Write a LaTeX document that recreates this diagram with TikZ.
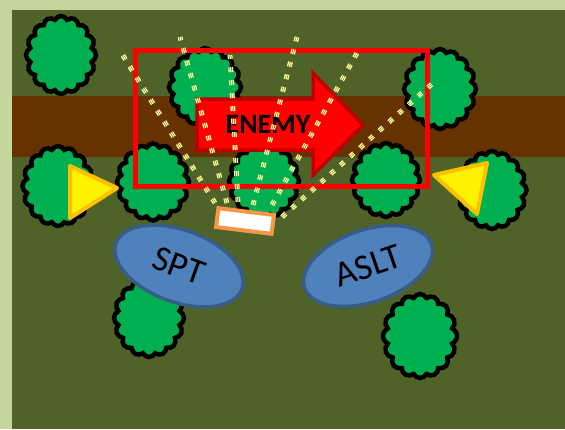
\documentclass[tikz,border=0pt]{standalone}
\usepackage{fontspec}
\setmainfont{Carlito}
\usetikzlibrary{shapes.symbols,shapes.geometric,calc}

\definecolor{framegreen}{HTML}{C3D69B}
\definecolor{fieldgreen}{HTML}{4F6228}
\definecolor{roadbrown}{HTML}{663300}
\definecolor{leafgreen}{HTML}{00B050}
\definecolor{unitfill}{HTML}{4F81BD}
\definecolor{unitline}{HTML}{385D8A}
\definecolor{gunline}{HTML}{F79646}
\definecolor{arrowline}{HTML}{C00000}
\definecolor{firecolor}{HTML}{FFFF99}
\definecolor{markline}{HTML}{FFC000}

\tikzset{
  tree/.style={cloud, cloud puffs=16, cloud puff arc=130, cloud ignores aspect,
    draw=black, line width=4.5, fill=leafgreen},
  fireline/.style={draw=firecolor, line width=1.25, dash pattern=on 5 off 8},
  unit/.style={ellipse, draw=unitline, fill=unitfill, line width=3.5,
    minimum width=134, minimum height=72, inner sep=0,
    font=\fontsize{36}{40}\selectfont},
  marker/.style={draw=markline, fill=yellow, line width=4, line join=round},
  gun/.style={draw=gunline, fill=white, line width=4, minimum width=56,
    minimum height=19, inner sep=0},
  objective/.style={draw=red, line width=5},
  enemyarrow/.style={draw=arrowline, fill=red, line width=3.5, line join=miter}
}

% three thin parallel dashed strokes between two named points
\newcommand\fireline[2]{%
  \foreach \o in {-1.8pt,0pt,1.8pt}{%
    \draw[fireline] ($(#1)!\o!90:(#2)$) -- ($(#2)!\o!-90:(#1)$);}}

\begin{document}
\begin{tikzpicture}[x=1pt,y=-1pt]
  \useasboundingbox (0,0) rectangle (565,429);

  % ground
  \fill[framegreen] (0,0) rectangle (565,429);
  \fill[fieldgreen] (12,10) rectangle (565,429);
  \fill[roadbrown] (12,96) rectangle (565,157);

  % vegetation
  \node[tree, minimum width=70, minimum height=78] (t1) at (61,55) {};
  \node[tree, minimum width=72, minimum height=78] (t2) at (205,87) {};
  \node[tree, minimum width=72, minimum height=80] (t3) at (440,89) {};
  \node[tree, minimum width=71, minimum height=80] (t4) at (58,186) {};
  \node[tree, minimum width=72, minimum height=77] (t5) at (153,182) {};
  \node[tree, minimum width=70, minimum height=74] (t6) at (264,181) {};
  \node[tree, minimum width=68, minimum height=74] (t7) at (386,180) {};
  \node[tree, minimum width=69, minimum height=78] (t8) at (492,190) {};
  \node[tree, minimum width=70, minimum height=78] (t9) at (149,318) {};
  \node[tree, minimum width=74, minimum height=84] (t10) at (420,336) {};

  % objective area
  \node[objective, minimum width=292, minimum height=136, inner sep=0] (obj) at (281,118) {};

  % enemy direction of movement
  \draw[enemyarrow] (197,99) -- (313,99) -- (313,73) -- (363,125)
    -- (313,175) -- (313,150) -- (197,150) -- cycle;
  \node[font=\bfseries\fontsize{28}{30}\selectfont, inner sep=0] (enemy) at (268,124) {ENEMY};

  % fields of fire
  \coordinate (f1a) at (215,203); \coordinate (f1b) at (122,54);
  \coordinate (f2a) at (227,203); \coordinate (f2b) at (180,37);
  \coordinate (f3a) at (238,202); \coordinate (f3b) at (230,55);
  \coordinate (f4a) at (253,205); \coordinate (f4b) at (297,37);
  \coordinate (f5a) at (272,205); \coordinate (f5b) at (357,53);
  \coordinate (f6a) at (282,217); \coordinate (f6b) at (433,83);
  \fireline{f1a}{f1b}
  \fireline{f2a}{f2b}
  \fireline{f3a}{f3b}
  \fireline{f4a}{f4b}
  \fireline{f5a}{f5b}
  \fireline{f6a}{f6b}

  % support position
  \node[gun, rotate=-7] (gun) at (245,221) {};

  % elements
  \node[unit, rotate=-20] (spt) at (179,266) {SPT};
  \node[unit, rotate=19] (aslt) at (368,266) {ASLT};

  % flank markers
  \draw[marker] (70,166) -- (117,188) -- (70,218) -- cycle;
  \draw[marker] (434,175) -- (487,163) -- (477,214) -- cycle;
\end{tikzpicture}
\end{document}
